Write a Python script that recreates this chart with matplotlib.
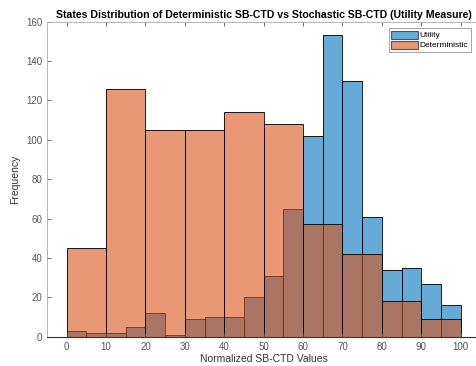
import numpy as np
import matplotlib
matplotlib.use("Agg")
import matplotlib.pyplot as plt

# histogram counts
utility_edges = np.arange(0, 105, 5)
utility_counts = [3, 2, 2, 5, 12, 1, 9, 10, 10, 20,
                  31, 65, 102, 153, 130, 61, 34, 35, 27, 16]
det_edges = np.arange(0, 110, 10)
det_counts = [45, 126, 105, 105, 114, 108, 57, 42, 18, 9]

blue = (0.0, 0.447, 0.741)
orange = (0.85, 0.325, 0.098)

plt.rcParams['font.family'] = ['Liberation Sans', 'DejaVu Sans']

fig = plt.figure(figsize=(4.77, 3.66), dpi=100)
ax = fig.add_axes([47 / 477, 1 - 336.7 / 366, (480.4 - 47) / 477, (336.7 - 21.7) / 366])

ax.bar(utility_edges[:-1], utility_counts, width=np.diff(utility_edges), align='edge',
       color=blue, alpha=0.6, edgecolor='none', label='Utility')
ax.bar(utility_edges[:-1], utility_counts, width=np.diff(utility_edges), align='edge',
       fill=False, edgecolor='black', linewidth=0.6)
ax.bar(det_edges[:-1], det_counts, width=np.diff(det_edges), align='edge',
       color=orange, alpha=0.6, edgecolor='none', label='Deterministic')
ax.bar(det_edges[:-1], det_counts, width=np.diff(det_edges), align='edge',
       fill=False, edgecolor='black', linewidth=0.6)

ax.set_xlim(-5, 105)
ax.set_ylim(0, 160)
ax.set_xticks(np.arange(0, 101, 10))
ax.set_yticks(np.arange(0, 161, 20))
ax.tick_params(direction='in', length=3, width=0.6, labelsize=7, colors='#555555',
               top=True, right=True)
for side in ['top', 'right', 'left']:
    ax.spines[side].set_color('#aaaaaa')
    ax.spines[side].set_linewidth(0.6)
ax.spines['bottom'].set_color('#333333')
ax.spines['bottom'].set_linewidth(0.8)

ax.set_title('States Distribution of Deterministic SB-CTD vs Stochastic SB-CTD (Utility Measure)',
             fontsize=7.6, fontweight='bold', pad=3, x=(264 - 47) / (480.4 - 47))
ax.set_xlabel('Normalized SB-CTD Values', fontsize=7.5, color='#333333', labelpad=2)
ax.set_ylabel('Frequency', fontsize=7.5, color='#333333', labelpad=4)

handles, labels = ax.get_legend_handles_labels()
leg = ax.legend(handles, labels, loc='upper right', bbox_to_anchor=(471 / 477, 1 - 28 / 366),
                bbox_transform=fig.transFigure, fontsize=6, frameon=True, fancybox=False,
                handlelength=3.2, handleheight=1.1, handletextpad=0.25, borderpad=0.3,
                labelspacing=0.15, borderaxespad=0)
leg.get_frame().set_edgecolor('#777777')
leg.get_frame().set_linewidth(0.6)
for h in leg.legend_handles:
    h.set_edgecolor('black')
    h.set_linewidth(0.8)

fig.savefig('out.png', dpi=100)
